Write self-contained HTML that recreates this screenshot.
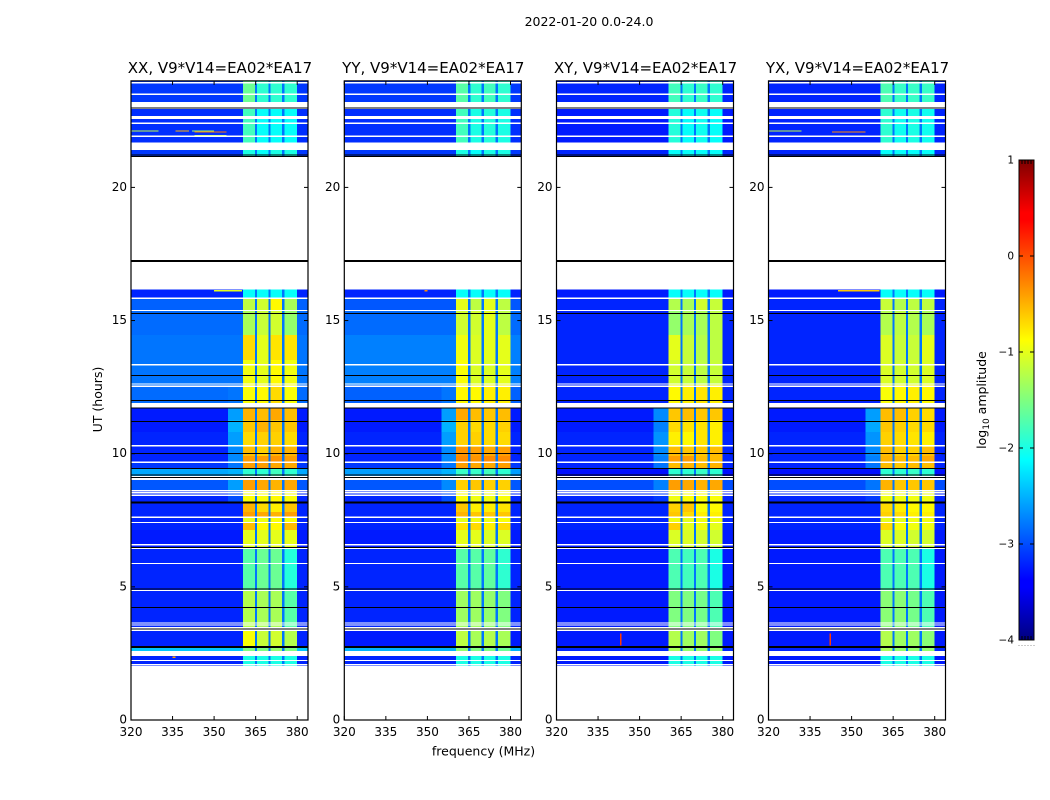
<!DOCTYPE html>
<html>
<head>
<meta charset="utf-8">
<title>2022-01-20 0.0-24.0</title>
<style>
html,body{margin:0;padding:0;background:#fff;width:1050px;height:800px;overflow:hidden}
svg{display:block}
text{font-family:"DejaVu Sans","Liberation Sans",sans-serif;fill:#000}
</style>
</head>
<body>
<svg id="figure" xmlns="http://www.w3.org/2000/svg" width="1050" height="800" viewBox="0 0 1050 800">
  <rect x="0" y="0" width="1050" height="800" fill="#fff"/>
  <defs>
    <linearGradient id="jetGrad" x1="0" y1="1" x2="0" y2="0">
      <stop offset="0" stop-color="#00007f"/>
      <stop offset="0.11" stop-color="#0000ff"/>
      <stop offset="0.125" stop-color="#0000ff"/>
      <stop offset="0.375" stop-color="#00ffff"/>
      <stop offset="0.625" stop-color="#ffff00"/>
      <stop offset="0.875" stop-color="#ff0000"/>
      <stop offset="0.89" stop-color="#ff0000"/>
      <stop offset="1" stop-color="#7f0000"/>
    </linearGradient>
  </defs>
  <text x="589" y="26" font-size="12.5" text-anchor="middle">2022-01-20 0.0-24.0</text>
  <text x="483.5" y="755.5" font-size="12.5" text-anchor="middle">frequency (MHz)</text>
  <text x="0" y="0" font-size="12.5" text-anchor="middle" transform="translate(102,399.5) rotate(-90)">UT (hours)</text>
  <text x="0" y="0" font-size="12.5" text-anchor="middle" transform="translate(986,400) rotate(-90)">log<tspan font-size="9" dy="3">10</tspan><tspan dy="-3"> amplitude</tspan></text>
  <g id="panels"></g>
  <g id="colorbar"></g>
</svg>
<script>
// ---- chart data ----
const panelNames = ['XX', 'YY', 'XY', 'YX'];
const panelSuffix = ', V9*V14=EA02*EA17';
const freqTicks = [320, 335, 350, 365, 380];
const hourTicks = [0, 5, 10, 15, 20];
const colorTicks = [1, 0, -1, -2, -3, -4];

// frequency limits of the zones: background, shoulder, band1, gap, band2, gap, band3, gap, band4, right edge (MHz)
const zoneEdges = [320, 355, 360.4, 364.7, 365.5, 369.6, 370.4, 374.6, 375.4, 380, 384];
const gapLevel = -2.8;

// observing blocks: [start hour, end hour]
const blocks = [
 [24.0,23.2],[22.94,21.68],[21.4,21.15],[16.17,15.85],[15.85,15.4],[15.4,14.46],[14.46,13.52],
 [13.52,12.58],[12.58,11.91],[11.72,11.27],[11.27,10.81],[10.81,10.25],[10.25,9.91],[9.91,9.69],
 [9.69,9.46],[9.46,9.16],[9.01,8.64],[8.64,8.15],[8.15,7.81],[7.81,7.62],[7.62,7.4],[7.4,7.13],
 [7.13,6.5],[6.46,4.88],[4.88,3.45],[3.38,2.78],[2.78,2.59],[2.4,2.03]
];

// log10 amplitude per block: [background, shoulder, band1, band2, band3, band4]
const valuesXX = [
 [-3.1,-3.1,-1.6,-1.9,-1.9,-1.9],[-3.15,-3.15,-1.8,-2.1,-2.1,-2.1],[-3.1,-3.1,-2.0,-2.1,-2.0,-2.0],
 [-3.2,-3.2,-2.1,-2.1,-2.1,-2.1],[-2.9,-2.9,-1.2,-1.1,-0.85,-1.3],[-2.85,-2.85,-1.3,-1.15,-1.1,-1.4],
 [-2.8,-2.8,-0.7,-1.0,-0.75,-0.75],[-2.8,-2.8,-0.95,-1.0,-0.85,-0.95],[-2.85,-2.8,-0.9,-0.85,-0.7,-0.9],
 [-3.25,-2.6,-0.5,-0.55,-0.45,-0.55],[-3.25,-2.5,-0.6,-0.5,-0.6,-0.6],[-3.2,-2.6,-0.7,-0.65,-0.65,-0.7],
 [-3.2,-2.7,-0.55,-0.65,-0.5,-0.5],[-3.2,-2.7,-0.4,-0.4,-0.35,-0.4],[-3.1,-2.8,-0.4,-0.4,-0.45,-0.45],
 [-2.55,-2.5,-1.9,-1.9,-1.8,-1.9],[-2.95,-2.6,-0.4,-0.45,-0.5,-0.45],[-3.2,-3.0,-0.9,-0.9,-0.85,-0.9],
 [-3.2,-3.2,-0.5,-0.7,-0.8,-0.6],[-3.2,-3.2,-0.4,-0.45,-0.5,-0.4],[-3.2,-3.2,-1.0,-0.95,-0.9,-0.9],
 [-3.2,-3.2,-0.55,-0.85,-0.85,-0.55],[-3.25,-3.25,-1.0,-1.0,-1.0,-1.0],[-3.2,-3.2,-1.7,-1.6,-1.6,-1.95],
 [-3.2,-3.2,-1.25,-1.3,-1.3,-1.7],[-3.2,-3.2,-0.9,-1.15,-1.1,-1.25],[-2.4,-2.4,-1.5,-1.5,-1.4,-1.5],
 [-3.2,-3.2,-2.0,-2.0,-2.0,-2.0]
];
const valuesYY = [
 [-3.1,-3.1,-1.7,-1.9,-1.8,-1.9],[-3.15,-3.15,-1.8,-2.0,-1.95,-2.0],[-3.1,-3.1,-2.0,-2.1,-2.0,-2.0],
 [-3.2,-3.2,-2.1,-2.1,-2.1,-2.1],[-2.95,-2.95,-1.0,-1.2,-1.0,-1.2],[-2.85,-2.85,-1.1,-1.1,-1.0,-1.2],
 [-2.75,-2.75,-0.95,-1.05,-1.0,-1.0],[-2.75,-2.75,-0.9,-1.05,-1.05,-1.0],[-2.9,-2.8,-0.85,-0.85,-0.8,-0.8],
 [-3.25,-2.6,-0.45,-0.55,-0.6,-0.55],[-3.25,-2.5,-0.65,-0.7,-0.7,-0.65],[-3.2,-2.6,-0.65,-0.65,-0.7,-0.7],
 [-3.2,-2.7,-0.35,-0.4,-0.45,-0.4],[-3.2,-2.7,-0.3,-0.35,-0.3,-0.3],[-3.1,-2.8,-0.4,-0.45,-0.45,-0.4],
 [-2.6,-2.5,-1.85,-1.85,-1.8,-1.9],[-2.95,-2.7,-0.65,-0.6,-0.65,-0.65],[-3.2,-3.0,-0.9,-0.95,-0.95,-0.9],
 [-3.2,-3.2,-0.6,-0.8,-0.8,-0.75],[-3.2,-3.2,-0.5,-0.6,-0.6,-0.6],[-3.2,-3.2,-1.0,-0.95,-0.95,-0.9],
 [-3.2,-3.2,-0.75,-0.7,-0.8,-0.7],[-3.25,-3.25,-1.0,-1.0,-1.05,-1.05],[-3.2,-3.2,-1.7,-1.7,-1.65,-1.9],
 [-3.2,-3.2,-1.35,-1.35,-1.4,-1.5],[-3.25,-3.25,-1.2,-1.3,-1.25,-1.3],[-2.5,-2.5,-1.4,-1.5,-1.5,-1.6],
 [-3.2,-3.2,-2.0,-2.0,-2.0,-2.0]
];
const valuesXY = [
 [-3.2,-3.2,-1.8,-1.9,-1.85,-1.9],[-3.25,-3.25,-1.95,-2.1,-2.05,-2.1],[-3.2,-3.2,-2.1,-2.1,-2.1,-2.1],
 [-3.25,-3.25,-2.1,-2.1,-2.1,-2.1],[-3.2,-3.2,-1.25,-1.3,-1.1,-1.15],[-3.2,-3.2,-1.4,-1.3,-1.3,-1.2],
 [-3.2,-3.2,-1.0,-1.15,-1.25,-1.2],[-3.2,-3.2,-1.1,-1.15,-1.2,-1.15],[-3.2,-3.2,-0.85,-0.8,-0.75,-0.8],
 [-3.25,-2.7,-0.6,-0.55,-0.6,-0.6],[-3.25,-2.75,-0.7,-0.75,-0.75,-0.8],[-3.2,-2.65,-0.8,-0.85,-0.75,-0.8],
 [-3.2,-2.7,-0.55,-0.6,-0.6,-0.55],[-3.2,-2.75,-0.4,-0.4,-0.55,-0.55],[-3.2,-2.8,-0.55,-0.5,-0.55,-0.5],
 [-3.3,-3.3,-1.9,-1.9,-1.85,-1.9],[-3.0,-2.75,-0.4,-0.45,-0.5,-0.45],[-3.2,-3.1,-0.95,-0.9,-0.9,-0.9],
 [-3.2,-3.2,-0.65,-0.6,-0.9,-0.85],[-3.2,-3.2,-0.6,-0.7,-0.8,-0.8],[-3.2,-3.2,-0.95,-1.0,-0.95,-0.95],
 [-3.2,-3.2,-0.65,-1.0,-0.95,-1.0],[-3.25,-3.25,-1.05,-1.05,-1.1,-1.1],[-3.25,-3.25,-1.75,-1.8,-1.75,-2.0],
 [-3.25,-3.25,-1.5,-1.5,-1.55,-1.75],[-3.25,-3.25,-1.25,-1.35,-1.35,-1.5],[-3.2,-3.2,-1.3,-1.4,-1.4,-1.4],
 [-3.25,-3.25,-2.0,-2.0,-2.0,-2.0]
];
const valuesYX = [
 [-3.2,-3.2,-1.75,-1.85,-1.85,-1.85],[-3.2,-3.2,-1.9,-2.05,-2.0,-2.05],[-3.2,-3.2,-2.1,-2.1,-2.1,-2.1],
 [-3.25,-3.25,-2.1,-2.1,-2.1,-2.1],[-3.2,-3.2,-1.15,-1.25,-1.2,-1.2],[-3.2,-3.2,-1.25,-1.2,-1.25,-1.3],
 [-3.2,-3.2,-1.05,-1.15,-1.15,-1.0],[-3.2,-3.2,-1.05,-1.1,-1.1,-1.05],[-3.2,-3.2,-0.9,-0.85,-0.8,-0.85],
 [-3.25,-2.6,-0.55,-0.55,-0.65,-0.7],[-3.25,-2.55,-0.6,-0.65,-0.7,-0.7],[-3.2,-2.65,-0.65,-0.7,-0.75,-0.8],
 [-3.2,-2.7,-0.55,-0.65,-0.65,-0.55],[-3.2,-2.75,-0.5,-0.55,-0.55,-0.45],[-3.2,-2.8,-0.55,-0.6,-0.55,-0.55],
 [-3.3,-3.3,-1.9,-1.9,-1.85,-1.9],[-3.0,-2.8,-0.5,-0.6,-0.6,-0.6],[-3.2,-3.1,-0.95,-0.95,-0.95,-0.95],
 [-3.2,-3.2,-0.7,-0.8,-0.85,-0.85],[-3.2,-3.2,-0.65,-0.7,-0.8,-0.8],[-3.2,-3.2,-1.0,-1.0,-0.95,-0.95],
 [-3.2,-3.2,-0.7,-0.9,-0.95,-0.95],[-3.25,-3.25,-1.05,-1.05,-1.1,-1.1],[-3.25,-3.25,-1.75,-1.75,-1.75,-2.0],
 [-3.25,-3.25,-1.45,-1.45,-1.55,-1.75],[-3.25,-3.25,-1.25,-1.35,-1.35,-1.45],[-3.2,-3.2,-1.3,-1.4,-1.4,-1.4],
 [-3.25,-3.25,-2.0,-2.0,-2.0,-2.0]
];
const panelValues = [valuesXX, valuesYY, valuesXY, valuesYX];

// flagged integrations: [start hour, end hour]
const whiteFlags = [
 [23.95,23.9],[23.52,23.47],[22.68,22.57],[22.44,22.39],[21.94,21.89],[15.86,15.81],[15.4,15.35],
 [13.36,13.31],[12.63,12.59],[12.56,12.51],[10.32,10.27],[9.7,9.65],[9.16,9.11],[9.06,9.01],
 [8.63,8.58],[8.56,8.51],[8.46,8.41],[7.64,7.59],[7.44,7.39],[6.6,6.55],[6.47,6.42],[5.9,5.85],
 [4.89,4.84],[3.67,3.62],[3.59,3.54],[3.5,3.45],[3.39,3.34],[2.26,2.21],[2.1,2.05]
];
const blackFlags = [
 [23.0,22.96],[21.24,21.2],[21.18,21.14],[17.27,17.2],[15.29,15.25],[12.95,12.91],[12.02,11.98],
 [11.74,11.7],[11.23,11.19],[10.03,9.99],[9.46,9.42],[9.22,9.18],[9.12,9.08],[8.2,8.13],
 [6.5,6.46],[4.94,4.9],[4.25,4.21],[3.43,3.39],[2.785,2.745],[2.735,2.695]
];

// narrow interference: [panel index, start MHz, end MHz, start hour, end hour, log10 amplitude]
const rfiSegments = [
 [0,320,330,22.14,22.1,-1.2],[0,336,341,22.14,22.1,-0.5],[0,342,350,22.14,22.1,-1.4],[0,343,354.5,22.1,22.06,-0.2],
 [0,343,354.5,21.96,21.92,-1.2],[0,350,360,16.15,16.1,-1.0],[3,320,332,22.14,22.1,-1.2],[3,343,355,22.1,22.06,-0.3],
 [3,345,360,16.15,16.1,-0.6],[1,349,350,16.15,16.1,-0.3],[2,343,343.5,3.25,2.8,0.1],[3,342,342.5,3.25,2.8,0.1],
 [0,335,336,2.38,2.33,-0.4]
];

// ---- axis functions ----
const panelLeft = i => [131, 344.3, 556.5, 768.5][i];
const panelWidth = 177;
const hourToY = h => 720 - h * 26.63;
const freqToX = (i, f) => panelLeft(i) + (f - 320) * 2.77;
const colorToY = v => 256 - v * 96;
function jet(v) {
  const t = Math.min(1, Math.max(0, (v + 4) / 5));
  const ch = d => Math.round(255 * Math.min(1, Math.max(0, 1.5 - Math.abs(4 * t - d))));
  return 'rgb(' + ch(3) + ',' + ch(2) + ',' + ch(1) + ')';
}
const NS = 'http://www.w3.org/2000/svg';
function make(tag, parent, attrs, txt) {
  const el = document.createElementNS(NS, tag);
  for (const k in attrs) el.setAttribute(k, attrs[k]);
  if (txt !== undefined) el.textContent = txt;
  parent.appendChild(el);
  return el;
}
function fmt(v) { return v < 0 ? '\u2212' + Math.abs(v) : String(v); }

const panelsRoot = document.getElementById('panels');
panelNames.forEach((name, i) => {
  const g = make('g', panelsRoot, {});
  
  

  const heat = make('g', g, {'shape-rendering': 'crispEdges'});
  
  

  blocks.forEach((b, r) => {
    const row = panelValues[i][r];
    const zoneValues = [row[0], row[1], row[2], gapLevel, row[3], gapLevel, row[4], gapLevel, row[5], row[0]];
    zoneValues.forEach((val, z) => {
      const x0 = freqToX(i, zoneEdges[z]);
      const x1 = freqToX(i, zoneEdges[z + 1]);
      const cell = make('rect', heat, {x: x0, y: hourToY(b[0]), width: x1 - x0, height: hourToY(b[1]) - hourToY(b[0]), fill: jet(val)});
      
      
    });
  });

  rfiSegments.filter(s => s[0] === i).forEach(s => {
    const x0 = freqToX(i, s[1]);
    const seg = make('rect', heat, {x: x0, y: hourToY(s[3]), width: Math.max(1, freqToX(i, s[2]) - x0), height: Math.max(1, hourToY(s[4]) - hourToY(s[3])), fill: jet(s[5])});
    
    
  });

  whiteFlags.forEach(f => {
    const w = make('rect', heat, {x: panelLeft(i), y: hourToY(f[0]), width: panelWidth, height: hourToY(f[1]) - hourToY(f[0]), fill: '#fff'});
    
    
  });
  blackFlags.forEach(f => {
    const k = make('rect', heat, {x: panelLeft(i), y: hourToY(f[0]), width: panelWidth, height: hourToY(f[1]) - hourToY(f[0]), fill: '#000'});
    
    
  });

  const frame = make('rect', g, {x: panelLeft(i), y: hourToY(24), width: panelWidth, height: hourToY(0) - hourToY(24), fill: 'none', stroke: '#000', 'stroke-width': 1.2});
  
  

  const title = make('text', g, {x: panelLeft(i) + panelWidth / 2 + 0.5, y: 73, 'font-size': 15, 'text-anchor': 'middle'}, name + panelSuffix);
  
  

  freqTicks.forEach(f => {
    const x = freqToX(i, f);
    const tb = make('line', g, {x1: x, x2: x, y1: hourToY(0), y2: hourToY(0) - 4, stroke: '#000', 'stroke-width': 1});
    
    
    const tt = make('line', g, {x1: x, x2: x, y1: hourToY(24), y2: hourToY(24) + 4, stroke: '#000', 'stroke-width': 1});
    
    
    const lb = make('text', g, {x: x, y: 736, 'font-size': 12, 'text-anchor': 'middle'}, String(f));
    
    
  });

  hourTicks.forEach(h => {
    const y = hourToY(h);
    const tl = make('line', g, {x1: panelLeft(i), x2: panelLeft(i) + 4, y1: y, y2: y, stroke: '#000', 'stroke-width': 1});
    
    
    const tr = make('line', g, {x1: panelLeft(i) + panelWidth, x2: panelLeft(i) + panelWidth - 4, y1: y, y2: y, stroke: '#000', 'stroke-width': 1});
    
    
    const lb = make('text', g, {x: panelLeft(i) - 4, y: y + 3.5, 'font-size': 12, 'text-anchor': 'end'}, String(h));
    
    
  });
});

// ---- colorbar ----
const cbRoot = document.getElementById('colorbar');
const cbLeft = 1019, cbWidth = 15;
const cbFill = make('rect', cbRoot, {x: cbLeft, y: colorToY(1), width: cbWidth, height: colorToY(-4) - colorToY(1), fill: 'url(#jetGrad)', stroke: '#000', 'stroke-width': 1});


colorTicks.forEach(v => {
  const y = colorToY(v);
  const a = make('line', cbRoot, {x1: cbLeft, x2: cbLeft + 4, y1: y, y2: y, stroke: '#000', 'stroke-width': 1});
  
  
  const b = make('line', cbRoot, {x1: cbLeft + cbWidth, x2: cbLeft + cbWidth - 4, y1: y, y2: y, stroke: '#000', 'stroke-width': 1});
  
  
  const lb = make('text', cbRoot, {x: cbLeft - 5, y: y + 3.5, 'font-size': 10.5, 'text-anchor': 'end'}, fmt(v));
  
  
});
for (let n = 0; n < 6; n++) {
  const x = cbLeft + n * cbWidth / 5;
  const up = make('line', cbRoot, {x1: x, x2: x, y1: colorToY(1), y2: colorToY(1) + 4, stroke: '#000', 'stroke-width': 1});
  
  
  const dn = make('line', cbRoot, {x1: x, x2: x, y1: colorToY(-4), y2: colorToY(-4) - 4, stroke: '#000', 'stroke-width': 1});
  
  
  const dot = make('rect', cbRoot, {x: x - 0.5, y: colorToY(-4) + 5, width: 1, height: 1, fill: '#999'});
  
  
}
</script>
</body>
</html>
